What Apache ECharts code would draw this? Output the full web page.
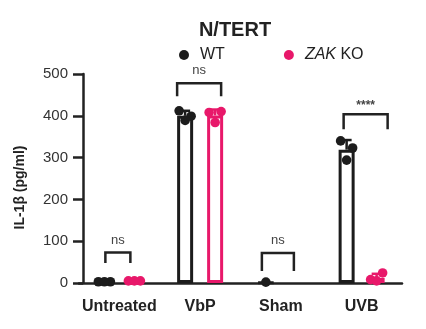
<!DOCTYPE html>
<html>
<head>
<meta charset="utf-8">
<script src="https://cdn.jsdelivr.net/npm/echarts@6/dist/echarts.min.js"></script>
<style>
  html, body { margin: 0; padding: 0; background: #fff; }
  #chart { width: 426px; height: 329px; }
</style>
</head>
<body>
<div id="chart"></div>
<script>
// IL-1β release in N/TERT cells, WT vs ZAK KO
const categories = ['Untreated', 'VbP', 'Sham', 'UVB'];
const groups = ['WT', 'ZAK KO'];

// bar heights (mean) and error (SD) per condition
const wtMean = [2, 400, 1, 319];
const koMean = [5, 401, null, 12];
const wtSD = [0, 12, 0, 23];
const koSD = [0, 14, null, 10];

// individual replicates per condition
const wtPoints = [[3, 3, 3], [412, 399, 389], [2], [340, 323, 294]];
const koPoints = [[5, 5, 5], [408, 410, 384], [], [8, 24, 5]];

// significance brackets (label, bracket top and leg-end values on the y scale)
const sigLabels = ['ns', 'ns', 'ns', '****'];
const bracketTop = [73, 478, 72, 404];
const bracketLeg = [48, 447, 29, 368];

const yMin = 0, yMax = 500, yStep = 100;

// drawing constants
const FONT = '"Liberation Sans", Arial, Helvetica, sans-serif';
const INK = '#222';
const COLORS = ['#1c1c1c', '#e8186a'];
const BAR_W = 16;
const GROUP_SHIFT = [-15, 15];           // px from category centre
const JITTER = [-6, 6, 0];               // px spread of replicate dots
const BRACKET_SPAN = [[-14, 11], [-23, 21], [-19, 13], [-18, 26]];

function dotData(points) {
  const out = [];
  points.forEach((arr, ci) => arr.forEach((v, k) => out.push([ci, v, arr.length === 1 ? 2 : k])));
  return out;
}

function dotSeries(gi, points) {
  return {
    name: groups[gi],
    type: 'custom',
    z: 5,
    clip: false,
    data: dotData(points),
    renderItem: function (params, api) {
      const p = api.coord([api.value(0), api.value(1)]);
      return {
        type: 'circle',
        shape: { cx: p[0] + GROUP_SHIFT[gi] + JITTER[api.value(2)], cy: p[1], r: 4.8 },
        style: { fill: COLORS[gi] }
      };
    }
  };
}

function errSeries(gi, mean, sd) {
  const data = [];
  mean.forEach((m, ci) => { if (m != null && sd[ci] > 0) data.push([ci, m, m + sd[ci]]); });
  return {
    name: groups[gi],
    type: 'custom',
    z: 4,
    data: data,
    renderItem: function (params, api) {
      const a = api.coord([api.value(0), api.value(1)]);
      const b = api.coord([api.value(0), api.value(2)]);
      const x = a[0] + GROUP_SHIFT[gi];
      return {
        type: 'group',
        children: [
          { type: 'line', shape: { x1: x, y1: a[1], x2: x, y2: b[1] },
            style: { stroke: COLORS[gi], lineWidth: 2.5 } },
          { type: 'line', shape: { x1: x - 5, y1: b[1], x2: x + 5, y2: b[1] },
            style: { stroke: COLORS[gi], lineWidth: 2.5 } }
        ]
      };
    }
  };
}

const bracketData = categories.map((c, i) => [i, bracketTop[i], bracketLeg[i]]);

const chart = echarts.init(document.getElementById('chart'), null, { renderer: 'canvas' });
chart.setOption({
  animation: false,
  backgroundColor: '#fff',
  textStyle: { fontFamily: FONT },
  title: {
    text: 'N/TERT',
    left: 230,
    top: 15,
    textAlign: 'center',
    textStyle: { fontFamily: FONT, fontSize: 20, fontWeight: 'bold', color: INK }
  },
  legend: {
    top: 42,
    left: 174,
    itemWidth: 10,
    itemHeight: 10,
    itemGap: 59,
    selectedMode: false,
    data: [
      { name: 'WT', icon: 'circle', itemStyle: { color: COLORS[0], borderWidth: 0 } },
      { name: 'ZAK KO', icon: 'circle', itemStyle: { color: COLORS[1], borderWidth: 0 } }
    ],
    formatter: function (name) { return name === 'ZAK KO' ? '{i|ZAK} KO' : name; },
    textStyle: {
      fontFamily: FONT, fontSize: 16, color: INK, padding: [0, 0, 0, 6],
      rich: { i: { fontFamily: FONT, fontSize: 16, fontStyle: 'italic', color: INK } }
    }
  },
  grid: { left: 79, right: 24, top: 74, bottom: 46, containLabel: false },
  xAxis: {
    type: 'category',
    data: categories,
    axisLine: { lineStyle: { color: INK, width: 2.5 } },
    axisTick: { alignWithLabel: true, length: 11, lineStyle: { color: INK, width: 2.5 } },
    axisLabel: { interval: 0, fontFamily: FONT, fontSize: 16, fontWeight: 'bold', color: INK, margin: 16 },
    splitLine: { show: false }
  },
  yAxis: {
    type: 'value',
    min: yMin,
    max: yMax,
    interval: yStep,
    offset: -4,
    name: 'IL-1β (pg/ml)',
    nameLocation: 'middle',
    nameGap: 56,
    nameTextStyle: { fontFamily: FONT, fontSize: 14, fontWeight: 'bold', color: INK, padding: [0, 18, 0, 0] },
    axisLine: { show: true, lineStyle: { color: INK, width: 2.5 } },
    axisTick: { show: true, length: 10, lineStyle: { color: INK, width: 2.5 } },
    axisLabel: { fontFamily: FONT, fontSize: 15, color: '#333', margin: 15 },
    splitLine: { show: false }
  },
  series: [
    {
      name: 'WT', type: 'bar', data: wtMean, barWidth: BAR_W, barGap: '87.5%', z: 2,
      itemStyle: { color: '#fff', borderColor: COLORS[0], borderWidth: 3 }
    },
    {
      name: 'ZAK KO', type: 'bar', data: koMean, barWidth: BAR_W, barGap: '87.5%', z: 2,
      itemStyle: { color: '#fff', borderColor: COLORS[1], borderWidth: 3 }
    },
    errSeries(0, wtMean, wtSD),
    errSeries(1, koMean, koSD),
    dotSeries(0, wtPoints),
    dotSeries(1, koPoints),
    {
      name: 'significance',
      type: 'custom',
      z: 6,
      clip: false,
      data: bracketData,
      renderItem: function (params, api) {
        const i = api.value(0);
        const top = api.coord([i, api.value(1)]);
        const legY = api.coord([i, api.value(2)])[1];
        const l = top[0] + BRACKET_SPAN[i][0];
        const r = top[0] + BRACKET_SPAN[i][1];
        const star = sigLabels[i].indexOf('*') >= 0;
        return {
          type: 'group',
          children: [
            { type: 'polyline',
              shape: { points: [[l, legY], [l, top[1]], [r, top[1]], [r, legY]] },
              style: { stroke: INK, lineWidth: 2.5, fill: null } },
            { type: 'text',
              style: {
                x: (l + r) / 2, y: top[1] - (star ? 2 : 6),
                text: sigLabels[i], textAlign: 'center', textVerticalAlign: 'bottom',
                font: (star ? 'bold 12px ' : '13px ') + FONT, fill: '#444'
              } }
          ]
        };
      }
    }
  ]
});
</script>
</body>
</html>
